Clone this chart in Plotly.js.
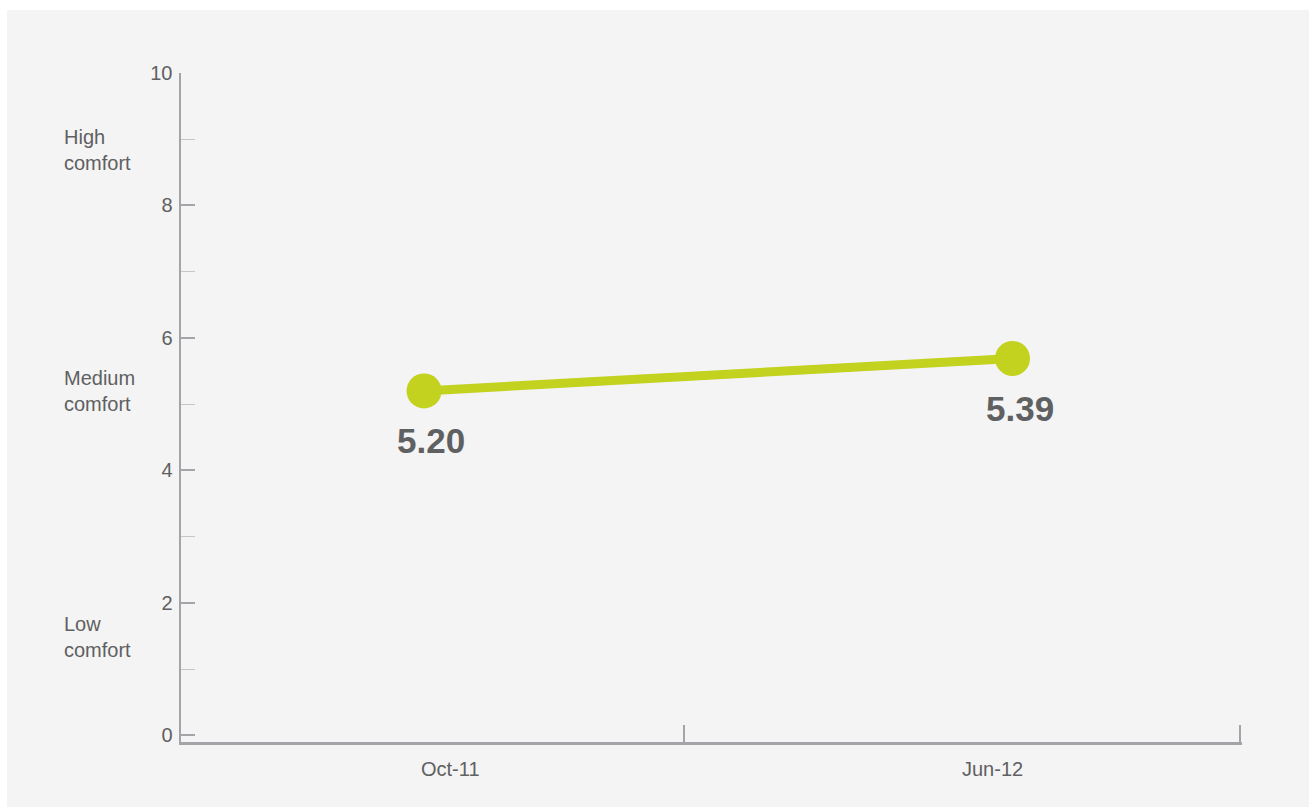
<!DOCTYPE html>
<html>
<head>
<meta charset="utf-8">
<script src="https://cdn.plot.ly/plotly-3.0.1.min.js"></script>
<style>
  html, body { margin: 0; padding: 0; background: #ffffff; width: 1309px; height: 807px; overflow: hidden; }
  #chart { position: absolute; left: 7px; top: 10px; width: 1302px; height: 797px; }
</style>
</head>
<body>
<div id="chart"></div>
<script>
// Data
const categories = ["Oct-11", "Jun-12"];
const scores = [5.20, 5.69];          // plotted positions
const scoreLabels = ["5.20", "5.39"]; // printed value labels
const yTickVals = [0, 2, 4, 6, 8, 10];
const yMinorVals = [1, 3, 5, 7, 9];
const zoneLabels = ["High<br>comfort", "Medium<br>comfort", "Low<br>comfort"];
const zoneCenters = [8.84, 5.20, 1.48];

const green = "#c3d11f";
const textGray = "#5f6062";
const axisGray = "#a3a4a7";
const font = "'Liberation Sans', Arial, Helvetica, sans-serif";

const xIdx = categories.map((c, i) => i);

const trace = {
  x: xIdx,
  y: scores,
  type: "scatter",
  mode: "lines+markers",
  line: { color: green, width: 9 },
  marker: { color: green, size: 35 },
  hoverinfo: "skip",
  showlegend: false
};

const annotations = [];
// value labels
scoreLabels.forEach((t, i) => {
  annotations.push({
    x: xIdx[i], y: scores[i], xref: "x", yref: "y",
    text: "<b>" + t + "</b>", showarrow: false,
    xshift: 7, yshift: -50,
    font: { family: font, size: 35, color: textGray }
  });
});
// category labels
const catShift = [26, -20];
categories.forEach((c, i) => {
  annotations.push({
    x: xIdx[i], y: 0, xref: "x", yref: "paper",
    text: c, showarrow: false, yanchor: "middle",
    xshift: catShift[i], yshift: -27,
    font: { family: font, size: 20, color: textGray }
  });
});
// zone labels
zoneLabels.forEach((t, k) => {
  annotations.push({
    x: 0, xref: "paper", xanchor: "left", xshift: -119,
    y: zoneCenters[k], yref: "y", yanchor: "middle",
    text: t, showarrow: false, align: "left",
    font: { family: font, size: 20, color: textGray }
  });
});

const layout = {
  width: 1302, height: 797,
  paper_bgcolor: "#f3f4f3",
  plot_bgcolor: "#f3f4f3",
  margin: { l: 174, r: 67, t: 63, b: 65 },
  font: { family: font, color: textGray },
  xaxis: {
    range: [-0.413, 1.39],
    showgrid: false, zeroline: false,
    showline: true, linecolor: axisGray, linewidth: 2.5,
    tickvals: [0.441, 1.386], ticktext: ["", ""],
    ticks: "inside", ticklen: 17, tickwidth: 2, tickcolor: axisGray,
    fixedrange: true
  },
  yaxis: {
    range: [-0.1, 10],
    showgrid: false, zeroline: false,
    showline: true, linecolor: axisGray, linewidth: 2.5,
    tickvals: yTickVals, ticktext: yTickVals.map(String),
    ticks: "inside", ticklen: 14, tickwidth: 2, tickcolor: axisGray,
    ticklabelstandoff: 2,
    tickfont: { family: font, size: 20, color: textGray },
    minor: { tickvals: yMinorVals, ticks: "inside", ticklen: 14, tickwidth: 1, tickcolor: "#c4c5c7" },
    fixedrange: true
  },
  annotations: annotations
};

Plotly.newPlot("chart", [trace], layout, { displayModeBar: false, staticPlot: true });
</script>
</body>
</html>
